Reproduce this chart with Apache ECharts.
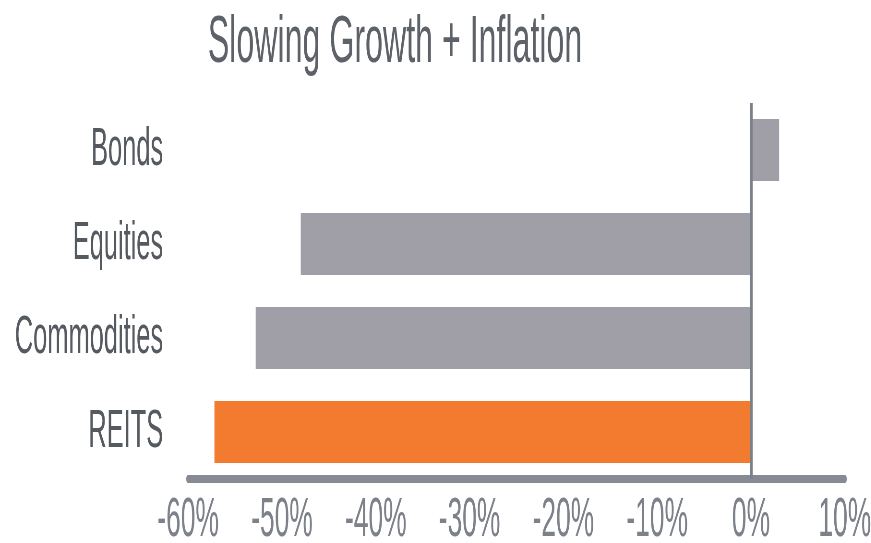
<!DOCTYPE html>
<html>
<head>
<meta charset="utf-8">
<script src="https://cdn.jsdelivr.net/npm/echarts@6/dist/echarts.min.js"></script>
<style>
  html, body { margin: 0; padding: 0; background: #fff; overflow: hidden; width: 871px; height: 543px; }
  /* the reference type is very condensed: draw wide, then squeeze horizontally */
  #chart { width: 1815px; height: 543px; transform: scaleX(0.48); transform-origin: 0 0; }
</style>
</head>
<body>
<div id="chart"></div>
<script>
var categories = ['REITS', 'Commodities', 'Equities', 'Bonds']
var values = [-57.2, -52.8, -48, 3]
var barColors = ['#f27b2f', '#a09fa7', '#a09fa7', '#a09fa7']

var font = '"Liberation Sans", Arial, sans-serif'

var chart = echarts.init(document.getElementById('chart'))
chart.setOption({
  animation: false,
  title: {
    text: 'Slowing Growth + Inflation',
    left: 818,
    textAlign: 'center',
    top: 5,
    textStyle: {
      fontFamily: font,
      fontWeight: 'normal',
      fontSize: 67,
      color: '#5d6168'
    }
  },
  grid: {
    left: 392,
    right: 55,
    top: 103,
    bottom: 64,
    outerBoundsMode: 'none'
  },
  xAxis: {
    type: 'value',
    min: -60,
    max: 10,
    interval: 10,
    splitLine: { show: false },
    axisTick: { show: false },
    axisLine: {
      show: true,
      lineStyle: { color: '#868b93', width: 8 }
    },
    axisLabel: {
      margin: 14,
      fontFamily: font,
      fontSize: 55,
      color: '#7d8189',
      formatter: function (v) { return v + '%' }
    }
  },
  yAxis: {
    type: 'category',
    data: categories,
    axisTick: { show: false },
    axisLine: { show: false, onZero: false },
    axisLabel: {
      margin: 52,
      fontFamily: font,
      fontSize: 53,
      color: '#555a60'
    }
  },
  series: [{
    type: 'bar',
    barWidth: 62,
    data: values.map(function (v, i) {
      return { value: v, itemStyle: { color: barColors[i] } }
    }),
    markLine: {
      silent: true,
      symbol: 'none',
      label: { show: false },
      lineStyle: { color: '#7b818a', width: 6, type: 'solid' },
      data: [{ xAxis: 0 }]
    }
  }]
})
</script>
</body>
</html>
